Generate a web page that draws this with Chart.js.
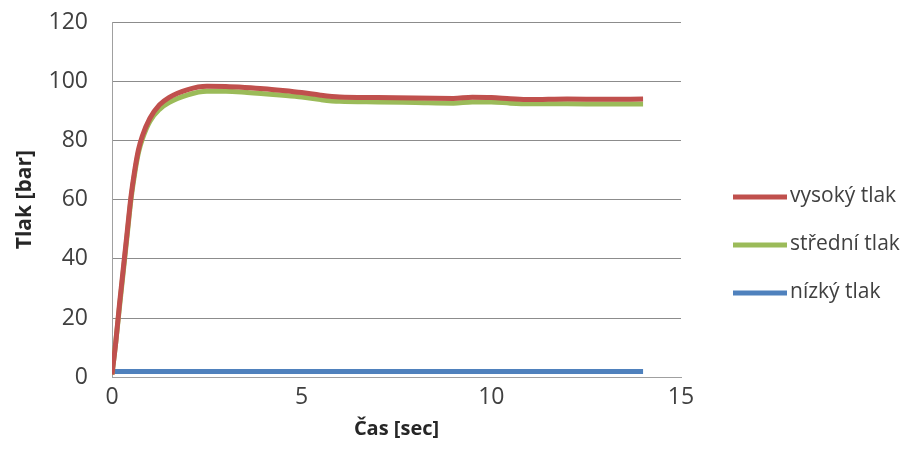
<!DOCTYPE html>
<html>
<head>
<meta charset="utf-8">
<script src="https://cdn.jsdelivr.net/npm/chart.js@4"></script>
<style>
  html, body { margin: 0; padding: 0; background: #fff; }
  #wrap { width: 921px; height: 468px; }
</style>
</head>
<body>
<div id="wrap"><canvas id="chart" width="921" height="468"></canvas></div>
<script>
// Čas v sekundách
const timeValues = [0, 0.1, 0.2, 0.3, 0.4, 0.5, 0.6, 0.7, 0.8, 1.0, 1.25, 1.5, 2, 2.5, 3, 3.5, 4, 4.5, 5, 5.5, 6, 7, 8, 9, 9.5, 10, 10.5, 11, 12, 13, 14];
// Tlak [bar]
const highValues = [1, 12, 25, 37, 49, 61, 70, 77, 81.5, 87.5, 92, 94.5, 97.2, 98.3, 98.2, 97.9, 97.5, 96.9, 96.2, 95.3, 94.7, 94.5, 94.3, 94.2, 94.6, 94.5, 94.1, 93.8, 94, 93.9, 94];
const midValues  = [1, 12, 24, 36, 48, 60, 69, 76, 80.5, 86.5, 90.5, 92.8, 95.4, 96.6, 96.6, 96.3, 95.8, 95.3, 94.7, 93.8, 93.2, 93, 92.8, 92.6, 93, 93, 92.6, 92.4, 92.4, 92.3, 92.3];
const lowValues  = [2, 2, 2, 2, 2, 2, 2, 2, 2, 2, 2, 2, 2, 2, 2, 2, 2, 2, 2, 2, 2, 2, 2, 2, 2, 2, 2, 2, 2, 2, 2];
const seriesLabels = ['vysoký tlak', 'střední tlak', 'nízký tlak'];
const seriesColors = ['#c0504d', '#9bbb59', '#4f81bd'];
const yTicks = [0, 20, 40, 60, 80, 100, 120];
const xTicks = [0, 5, 10, 15];

function toPoints(values) {
    return timeValues.map((t, i) => ({ x: t, y: values[i] }));
}

const fontFamily = '"Open Sans", "Noto Sans", sans-serif';

// Legenda vpravo (vlastní vykreslení)
const sideLegend = {
    id: 'sideLegend',
    afterDraw(chart) {
        const c = chart.ctx;
        const x0 = 733, lineLen = 54, yStart = 197, step = 48;
        c.save();
        c.font = '21px ' + fontFamily;
        c.textBaseline = 'middle';
        c.fillStyle = '#404040';
        chart.data.datasets.forEach((ds, i) => {
            const y = yStart + i * step;
            c.strokeStyle = ds.borderColor;
            c.lineWidth = 5;
            c.beginPath();
            c.moveTo(x0, y);
            c.lineTo(x0 + lineLen, y);
            c.stroke();
            c.fillText(ds.label, x0 + lineLen + 3, y - 1);
        });
        c.restore();
    }
};

const ctx = document.getElementById('chart').getContext('2d');

let chart = new Chart(ctx, {
    type: 'line',
    data: {
        datasets: [highValues, midValues, lowValues].map((vals, i) => ({
            label: seriesLabels[i],
            data: toPoints(vals),
            borderColor: seriesColors[i],
            backgroundColor: seriesColors[i],
            borderWidth: 5,
            pointRadius: 0,
            cubicInterpolationMode: 'monotone',
            fill: false
        }))
    },
    options: {
        animation: false,
        responsive: false,
        layout: { padding: { left: 10, top: 22, right: 240, bottom: 23 } },
        plugins: {
            legend: { display: false },
            tooltip: { enabled: false }
        },
        scales: {
            x: {
                type: 'linear',
                min: 0,
                max: 15,
                afterBuildTicks: (axis) => { axis.ticks = xTicks.map(v => ({ value: v })); },
                grid: { display: false, drawTicks: false },
                border: { display: true, color: '#a0a0a0', width: 1 },
                ticks: { color: '#404040', padding: 6, font: { family: fontFamily, size: 23 } },
                title: {
                    display: true,
                    text: 'Čas [sec]',
                    color: '#262626',
                    padding: { top: 0 },
                    font: { family: fontFamily, size: 20, weight: 'bold' }
                }
            },
            y: {
                min: 0,
                max: 120,
                afterBuildTicks: (axis) => { axis.ticks = yTicks.map(v => ({ value: v })); },
                afterFit: (axis) => {
                    axis.width = 102;
                    axis.paddingTop = 0;
                    axis.paddingBottom = 0;
                },
                grid: { color: '#8c8c8c', drawTicks: false },
                border: { display: true, color: '#a0a0a0', width: 1 },
                ticks: { color: '#404040', padding: 24, font: { family: fontFamily, size: 23 } },
                title: {
                    display: true,
                    text: 'Tlak [bar]',
                    color: '#262626',
                    padding: { top: 2, bottom: 0 },
                    font: { family: fontFamily, size: 21, weight: 'bold' }
                }
            }
        }
    },
    plugins: [sideLegend]
});
</script>
</body>
</html>
